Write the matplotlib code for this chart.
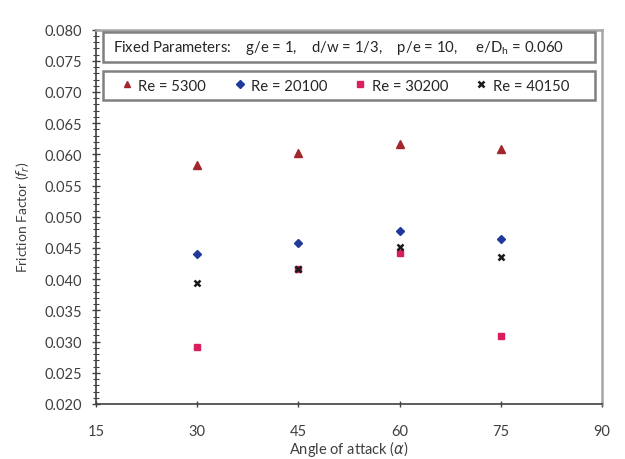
import matplotlib
matplotlib.use("Agg")
import matplotlib.pyplot as plt
from matplotlib.patches import Rectangle
from matplotlib.ticker import MultipleLocator, FormatStrFormatter

plt.rcParams["font.family"] = ["Lato", "DejaVu Sans"]

# data
angles = [30, 45, 60, 75]
f_re5300 = [0.0583, 0.0602, 0.0617, 0.0608]
f_re20100 = [0.0441, 0.0458, 0.0477, 0.0465]
f_re30200 = [0.0292, 0.0417, 0.0442, 0.0309]
f_re40150 = [0.0394, 0.0417, 0.0451, 0.0435]
series_labels = ["Re = 5300", "Re = 20100", "Re = 30200", "Re = 40150"]
fixed_text = ("Fixed Parameters:    g/e = 1,    d/w = 1/3,    p/e = 10,     "
              "e/D$_\\mathregular{h}$ = 0.060")

fig = plt.figure(figsize=(6.25, 4.6), dpi=100)
ax = fig.add_axes([0.1536, 0.1196, 0.8096, 0.8139])

ax.plot(angles, f_re5300, ls="none", marker="^", ms=5.5, color="#a3262d", label=series_labels[0])
ax.plot(angles, f_re20100, ls="none", marker="D", ms=4.3, color="#1f3a9a", label=series_labels[1])
ax.plot(angles, f_re30200, ls="none", marker="s", ms=5, color="#d81e5b", label=series_labels[2])
ax.plot(angles, f_re40150, ls="none", marker="x", ms=4.5, mew=1.8, color="#1a1a1a", label=series_labels[3])

ax.set_xlim(15, 90)
ax.set_ylim(0.020, 0.080)
ax.xaxis.set_major_locator(MultipleLocator(15))
ax.yaxis.set_major_locator(MultipleLocator(0.005))
ax.yaxis.set_minor_locator(MultipleLocator(0.001))
ax.yaxis.set_major_formatter(FormatStrFormatter("%.3f"))

ax.tick_params(axis="both", which="major", direction="inout", length=6, width=1,
               color="#404040", labelsize=10.5, labelcolor="#404040", pad=7)
ax.tick_params(axis="y", which="minor", direction="inout", length=4, width=0.8, color="#404040")
ax.tick_params(axis="x", which="major", length=5, pad=12)

for side in ["left", "bottom"]:
    ax.spines[side].set_color("#404040")
    ax.spines[side].set_linewidth(1.2)
for side in ["top", "right"]:
    ax.spines[side].set_color("#a6a6a6")
    ax.spines[side].set_linewidth(1.8)

ax.set_xlabel("Angle of attack ($\\alpha$)", fontsize=10.5, color="#404040", labelpad=0)
ax.set_ylabel("Friction Factor ($f_r$)", fontsize=10, color="#404040", labelpad=9)

# fixed parameter box
ax.add_patch(Rectangle((0.014, 0.9135), 0.972, 0.080, transform=ax.transAxes,
                       fill=False, edgecolor="#808080", lw=1.8, zorder=5))
ax.text(0.033, 0.9535, fixed_text, transform=ax.transAxes, fontsize=10.7,
        color="#262626", va="center", ha="left", zorder=6)

# legend box
ax.add_patch(Rectangle((0.014, 0.812), 0.972, 0.077, transform=ax.transAxes,
                       fill=False, edgecolor="#808080", lw=1.8, zorder=5))
leg = ax.legend(loc="center", bbox_to_anchor=(0.493, 0.8505), ncol=4, frameon=False,
                fontsize=10.7, handlelength=0.7, handletextpad=0.4, borderaxespad=0,
                columnspacing=1.9, markerscale=0.85)
for t in leg.get_texts():
    t.set_color("#262626")

fig.savefig("out.png", dpi=100)
